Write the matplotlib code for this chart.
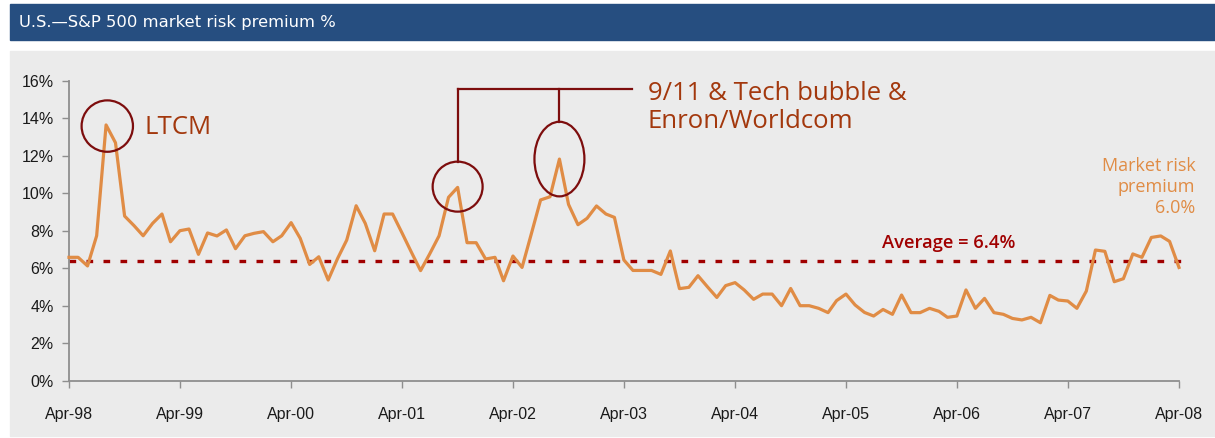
import matplotlib
matplotlib.use("Agg")

import matplotlib.pyplot as plt
import matplotlib.dates as mdates
import numpy as np
import pandas as pd
from matplotlib.patches import Ellipse, Rectangle

# Monthly market risk premium (%), Apr-98 .. Apr-08
premium = [
    6.58, 6.58, 6.12, 7.73, 13.64, 12.69, 8.78, 8.27, 7.73, 8.39, 8.89, 7.41,
    8.00, 8.09, 6.74, 7.88, 7.72, 8.04, 7.04, 7.73, 7.86, 7.95, 7.41, 7.73,
    8.43, 7.59, 6.20, 6.61, 5.37, 6.52, 7.50, 9.33, 8.39, 6.93, 8.89, 8.89,
    7.88, 6.88, 5.87, 6.76, 7.73, 9.78, 10.31, 7.36, 7.36, 6.49, 6.58, 5.33,
    6.65, 6.04, 7.86, 9.64, 9.81, 11.82, 9.40, 8.32, 8.66, 9.32, 8.89, 8.71,
    6.44, 5.88, 5.88, 5.88, 5.67, 6.92, 4.91, 4.98, 5.60, 5.01, 4.44, 5.07,
    5.23, 4.84, 4.34, 4.62, 4.62, 4.00, 4.92, 4.00, 4.00, 3.86, 3.63, 4.27,
    4.62, 4.04, 3.64, 3.45, 3.80, 3.54, 4.57, 3.63, 3.63, 3.86, 3.70, 3.38,
    3.45, 4.84, 3.86, 4.39, 3.63, 3.54, 3.32, 3.24, 3.38, 3.09, 4.55, 4.30,
    4.25, 3.86, 4.78, 6.97, 6.90, 5.28, 5.44, 6.76, 6.58, 7.64, 7.72, 7.43,
    6.04,
]
dates = pd.date_range("1998-04-01", periods=len(premium), freq="MS")
average = 6.4
y_ticks = [0, 2, 4, 6, 8, 10, 12, 14, 16]
x_ticks = pd.date_range("1998-04-01", "2008-04-01", freq="12MS")
x_labels = [d.strftime("Apr-%y") for d in x_ticks]

title = "U.S.\u2014S&P 500 market risk premium %"

LINE = "#e08c45"
AVG = "#a00000"
NOTE = "#7d0d0d"
NOTE_TEXT = "#a3380d"
AX_GREY = "#8e8e8e"

fig = plt.figure(figsize=(12.15, 4.38), dpi=100)
W, H = 1215.0, 438.0

# title bar and grey panel
fig.patches.append(Rectangle((10 / W, 1 - 40 / H), 1 - 10 / W, 36 / H,
                             transform=fig.transFigure, color="#264e80", zorder=-10))
fig.patches.append(Rectangle((10 / W, 2 / H), 1 - 10 / W, 1 - 50.7 / H - 2 / H,
                             transform=fig.transFigure, color="#ebebeb", zorder=-10))
fig.text(19 / W, 1 - 22 / H, title, color="white", fontsize=11.8,
         family=["DejaVu Sans"], va="center", ha="left")

ax = fig.add_axes([69 / W, (H - 380.7) / H, (1179 - 69) / W, 300 / H])
ax.patch.set_visible(False)

ax.plot(dates, premium, color=LINE, lw=2.3, clip_on=False, zorder=3)
ax.axhline(average, xmin=0, xmax=1.004, color=AVG, lw=2.4, dashes=(2, 3.1),
           clip_on=False, zorder=2)

ax.set_ylim(0, 16)
ax.set_xlim(dates[0], dates[-1])
ax.set_yticks(y_ticks)
ax.set_yticklabels([f"{v}%" for v in y_ticks])
ax.set_xticks(x_ticks)
ax.set_xticklabels(x_labels)

for s in ["top", "right"]:
    ax.spines[s].set_visible(False)
for s in ["left", "bottom"]:
    ax.spines[s].set_color(AX_GREY)
    ax.spines[s].set_linewidth(1.3)
ax.tick_params(axis="y", length=5, width=1, color=AX_GREY, pad=6,
               labelsize=11.5, labelcolor="#1a1a1a")
ax.tick_params(axis="x", length=5, width=1, color=AX_GREY, pad=14,
               labelsize=11.5, labelcolor="#1a1a1a")
for lbl in ax.get_xticklabels() + ax.get_yticklabels():
    lbl.set_family(["Liberation Sans Narrow", "Liberation Sans", "DejaVu Sans"])

# event circles
def day(s):
    return mdates.date2num(pd.Timestamp(s))

px_day = 111.0 / 365.0
px_pct = 300.0 / 16.0
circles = [("1998-08-05", 13.58, 51.4, 51.4),
           ("2001-10-01", 10.35, 50.0, 50.0),
           ("2002-09-01", 11.82, 50.0, 74.6)]
for d, yv, wpx, hpx in circles:
    ax.add_patch(Ellipse((day(d), yv), wpx / px_day, hpx / px_pct, fill=False,
                         ec=NOTE, lw=1.6, zorder=4, clip_on=False))

# connector bracket
top = 15.56
ax.plot([day("2001-10-01"), day("2001-10-01")], [10.35 + 25 / px_pct, top],
        color=NOTE, lw=1.6, clip_on=False)
ax.plot([day("2002-09-01"), day("2002-09-01")], [11.82 + 37.3 / px_pct, top],
        color=NOTE, lw=1.6, clip_on=False)
ax.plot([day("2001-10-01"), day("2003-04-29")], [top, top],
        color=NOTE, lw=1.6, clip_on=False)

note_font = ["Open Sans", "DejaVu Sans"]
ax.text(day("1998-12-07"), 13.49, "LTCM", color=NOTE_TEXT, fontsize=18.5,
        family=note_font, va="center", ha="left")
ax.text(day("2003-06-18"), 14.57, "9/11 & Tech bubble &\nEnron/Worldcom",
        color=NOTE_TEXT, fontsize=18.5, family=note_font, va="center",
        ha="left", linespacing=1.15)
ax.text(day("2006-10-12"), 7.34, f"Average = {average}%", color=AVG,
        fontsize=13.2, family=note_font, fontweight="semibold",
        va="center", ha="right")
ax.text(day("2008-05-25"), 10.34, f"Market risk\npremium\n{premium[-1]:.1f}%",
        color=LINE, fontsize=13, family=note_font, va="center", ha="right",
        multialignment="right", linespacing=1.2)

fig.savefig("out.png", dpi=100)
